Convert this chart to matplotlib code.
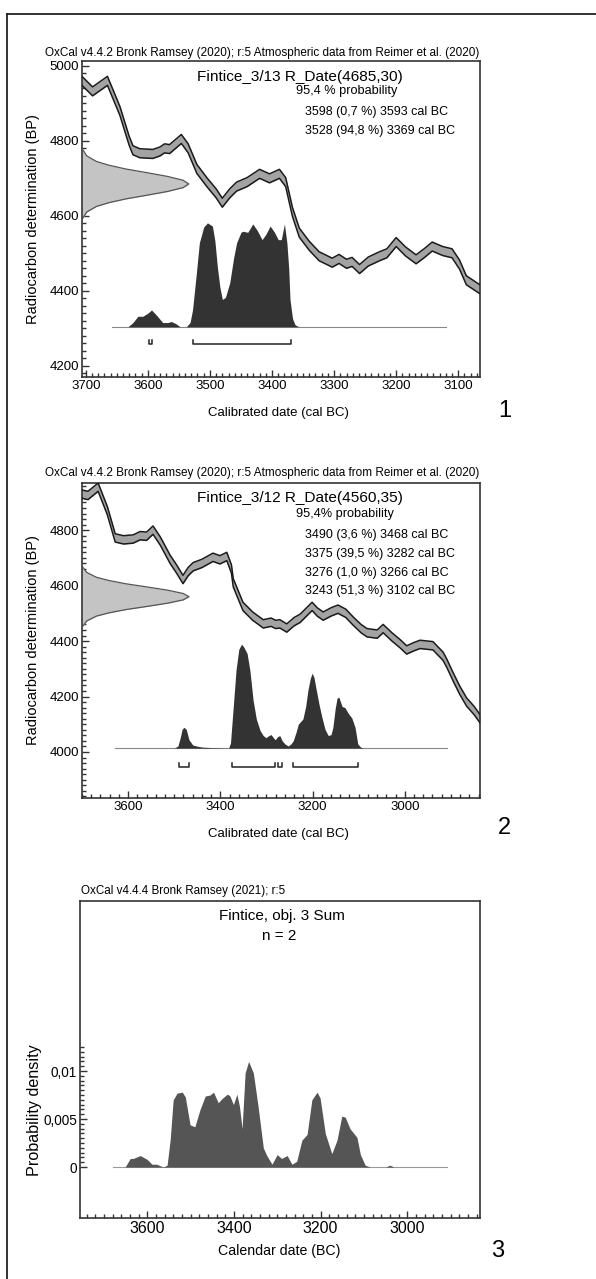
import matplotlib
matplotlib.use("Agg")
import matplotlib.pyplot as plt
from matplotlib.ticker import MultipleLocator, FixedLocator
import numpy as np

plt.rcParams['font.family'] = ['Liberation Sans', 'DejaVu Sans']

W, H = 596, 1279

# ---- panel 1 : Fintice_3/13 ----
cal1_x = [3706, 3689, 3665, 3645, 3630, 3624, 3613, 3592, 3580, 3573, 3565, 3546, 3535, 3521, 3505,
          3490, 3480, 3468, 3457, 3440, 3420, 3404, 3388, 3378, 3367, 3356, 3340, 3324, 3303, 3292,
          3280, 3271, 3259, 3245, 3227, 3215, 3200, 3185, 3168, 3155, 3142, 3125, 3110, 3098, 3087, 3066]
cal1_y = [4960, 4932, 4960, 4880, 4800, 4775, 4767, 4765, 4772, 4780, 4778, 4805, 4780, 4725, 4690,
          4660, 4635, 4660, 4678, 4690, 4712, 4700, 4712, 4690, 4610, 4555, 4520, 4492, 4475, 4485,
          4472, 4477, 4458, 4478, 4492, 4500, 4530, 4505, 4484, 4500, 4518, 4506, 4500, 4470, 4428, 4405]

post1_x = [3632, 3624, 3616, 3608, 3600, 3594, 3586, 3576, 3568, 3562, 3555, 3548, 3538, 3532, 3528,
           3522, 3517, 3510, 3504, 3496, 3492, 3488, 3484, 3480, 3475, 3468, 3462, 3457, 3450, 3447,
           3439, 3431, 3424, 3416, 3410, 3403, 3396, 3390, 3385, 3380, 3376, 3373, 3371, 3367, 3363, 3357]
post1_h = [0, 0.04, 0.10, 0.10, 0.13, 0.16, 0.11, 0.04, 0.04, 0.05, 0.03, 0.0, 0.0, 0.04, 0.16,
           0.50, 0.80, 0.95, 0.99, 0.96, 0.82, 0.57, 0.38, 0.26, 0.28, 0.42, 0.65, 0.80, 0.90, 0.91,
           0.90, 0.98, 0.92, 0.83, 0.88, 0.96, 0.90, 0.83, 0.83, 0.98, 0.80, 0.55, 0.26, 0.08, 0.02, 0]
ranges1 = [(3598, 3593), (3528, 3369)]
text1 = ["3598 (0,7 %) 3593 cal BC", "3528 (94,8 %) 3369 cal BC"]

# ---- panel 2 : Fintice_3/12 ----
cal2_x = [3700, 3687, 3665, 3645, 3628, 3610, 3589, 3574, 3560, 3546, 3530, 3509, 3495, 3481, 3470,
          3459, 3440, 3416, 3401, 3386, 3376, 3372, 3351, 3330, 3307, 3290, 3280, 3271, 3256, 3240,
          3227, 3201, 3190, 3177, 3160, 3145, 3128, 3112, 3095, 3082, 3060, 3047, 3028, 3010, 2996,
          2980, 2967, 2939, 2917, 2909, 2895, 2881, 2866, 2850, 2837]
cal2_y = [4930, 4925, 4955, 4870, 4772, 4765, 4768, 4780, 4778, 4800, 4760, 4695, 4660, 4622, 4650,
          4668, 4680, 4702, 4693, 4705, 4660, 4610, 4525, 4490, 4462, 4468, 4460, 4462, 4447, 4470,
          4482, 4525, 4505, 4490, 4505, 4515, 4500, 4472, 4445, 4430, 4425, 4445, 4415, 4390, 4368,
          4380, 4388, 4383, 4345, 4320, 4270, 4223, 4180, 4150, 4120]

post2_x = [3500, 3492, 3487, 3483, 3479, 3474, 3468, 3460, 3452, 3440, 3420, 3382, 3378, 3372, 3366,
           3360, 3354, 3349, 3342, 3336, 3329, 3322, 3314, 3307, 3301, 3295, 3290, 3285, 3281, 3276,
           3271, 3266, 3260, 3253, 3247, 3242, 3236, 3231, 3221, 3215, 3210, 3205, 3201, 3197, 3192,
           3186, 3180, 3173, 3166, 3160, 3156, 3151, 3147, 3143, 3140, 3136, 3130, 3122, 3115, 3108,
           3102, 3096, 3090]
post2_h = [0, 0.02, 0.1, 0.18, 0.2, 0.18, 0.08, 0.03, 0.02, 0.01, 0.005, 0.0, 0.05, 0.40, 0.75,
           0.95, 1.0, 0.97, 0.91, 0.75, 0.46, 0.28, 0.17, 0.12, 0.10, 0.12, 0.13, 0.10, 0.08, 0.11,
           0.12, 0.07, 0.04, 0.02, 0.04, 0.07, 0.15, 0.23, 0.28, 0.40, 0.56, 0.67, 0.72, 0.68, 0.56,
           0.42, 0.30, 0.18, 0.12, 0.13, 0.2, 0.38, 0.48, 0.49, 0.45, 0.40, 0.39, 0.33, 0.29, 0.2,
           0.04, 0.01, 0]
ranges2 = [(3490, 3468), (3375, 3282), (3276, 3266), (3243, 3102)]
text2 = ["3490 (3,6 %) 3468 cal BC", "3375 (39,5 %) 3282 cal BC",
         "3276 (1,0 %) 3266 cal BC", "3243 (51,3 %) 3102 cal BC"]

# measured date profile (offset in sigma, relative height)
gauss_sig = [-3, -2.5, -2, -1.67, -1.33, -1, -0.67, -0.33, 0, 0.33, 0.67, 1, 1.33, 1.67, 2, 2.5, 3]
gauss_h = [0.011, 0.044, 0.135, 0.25, 0.41, 0.61, 0.80, 0.946, 1.0, 0.946, 0.80, 0.61, 0.41, 0.25,
           0.135, 0.044, 0.011]

# ---- panel 3 : sum ----
dens_x = [3651, 3639, 3632, 3616, 3600, 3589, 3578, 3563, 3554, 3547, 3540, 3531, 3519, 3512, 3501,
          3490, 3478, 3466, 3455, 3447, 3436, 3428, 3415, 3409, 3401, 3393, 3387, 3381, 3374, 3366,
          3355, 3344, 3332, 3324, 3312, 3300, 3290, 3277, 3266, 3255, 3243, 3231, 3220, 3208, 3201,
          3189, 3174, 3162, 3151, 3143, 3132, 3116, 3108, 3097, 3085, 3050, 3040, 3030]
dens_y = [0, 0.0009, 0.0009, 0.0012, 0.0008, 0.0003, 0.0003, 0, 0.0002, 0.0028, 0.007, 0.0077, 0.0078,
          0.0073, 0.0044, 0.0042, 0.006, 0.0074, 0.0075, 0.0078, 0.0067, 0.0071, 0.0076, 0.0074, 0.0065,
          0.0076, 0.0063, 0.004, 0.0098, 0.011, 0.0098, 0.0063, 0.002, 0.0012, 0.0003, 0.0013, 0.0009,
          0.0012, 0.0003, 0.0006, 0.0028, 0.0034, 0.007, 0.0078, 0.0072, 0.0035, 0.0014, 0.0028, 0.0053,
          0.0052, 0.004, 0.0031, 0.0013, 0.0002, 0, 0, 0.0002, 0]

header = "OxCal v4.4.2 Bronk Ramsey (2020); r:5 Atmospheric data from Reimer et al. (2020)"
EDGE = '#333333'


def px(x, y):
    return x / W, 1 - y / H


def style(ax, xmaj, xmin, ymaj, ymin):
    ax.xaxis.set_major_locator(MultipleLocator(xmaj))
    ax.xaxis.set_minor_locator(MultipleLocator(xmin))
    if ymaj is not None:
        ax.yaxis.set_major_locator(MultipleLocator(ymaj))
        ax.yaxis.set_minor_locator(MultipleLocator(ymin))
    ax.tick_params(which='both', direction='in', top=False, right=False, color=EDGE, width=1)
    ax.tick_params(which='major', length=5, pad=2)
    ax.tick_params(which='minor', length=3)
    for s in ax.spines.values():
        s.set_linewidth(1.2)
        s.set_color(EDGE)


def calib_panel(ax, cx, cy, half, date, sig, gwidth, px_, ph, base, scale, ranges, by, bt, x0, x1):
    cy = np.array(cy, float)
    ax.fill_between(cx, cy - half, cy + half, color='#a3a3a3', lw=0, zorder=2)
    ax.plot(cx, cy - half, color='#1a1a1a', lw=1.1, zorder=3)
    ax.plot(cx, cy + half, color='#1a1a1a', lw=1.1, zorder=3)
    # measured date on the y axis
    xl = ax.get_xlim()[0]
    gy = date + np.array(gauss_sig) * sig
    gx = xl - np.array(gauss_h) * gwidth
    ax.fill_betweenx(gy, xl, gx, color='#c4c4c4', lw=0, zorder=2)
    ax.plot(gx, gy, color='#555555', lw=0.9, zorder=3)
    # calibrated distribution
    ax.plot([x0, x1], [base, base], color='#888888', lw=0.8, zorder=3)
    ax.fill_between(px_, base, base + np.array(ph) * scale, color='#333333', lw=0, zorder=4)
    for a, b in ranges:
        ax.plot([a, a, b, b], [by + bt, by, by, by + bt], color='#222222', lw=1.1, zorder=4)


fig = plt.figure(figsize=(W / 100, H / 100), dpi=100)

# outer frame (top and left)
fig.add_artist(plt.Line2D([7 / W, 1], [1 - 14 / H, 1 - 14 / H], color='#222222', lw=1.3))
fig.add_artist(plt.Line2D([7 / W, 7 / W], [1 - 14 / H, 0], color='#222222', lw=1.3))

# panel 1
ax1 = fig.add_axes([82 / W, 1 - 377 / H, 398 / W, 316 / H])
ax1.set_xlim(3706, 3065)
ax1.set_ylim(4170, 5013)
style(ax1, 100, 10, 200, 20)
calib_panel(ax1, cal1_x, cal1_y, 12, 4685, 30, 172, post1_x, post1_h, 4304, 280,
            ranges1, 4259, 11, 3657, 3119)
ax1.tick_params(labelsize=9.5)

# panel 2
ax2 = fig.add_axes([82 / W, 1 - 798 / H, 398 / W, 315 / H])
ax2.set_xlim(3700, 2837)
ax2.set_ylim(3834, 4970)
style(ax2, 200, 20, 200, 20)
calib_panel(ax2, cal2_x, cal2_y, 15, 4560, 35, 232, post2_x, post2_h, 4014, 375,
            ranges2, 3946, 15, 3628, 2909)
ax2.tick_params(labelsize=9.5)

for ax, hy, ty, py, lines, ly, pn, xy in [
        (ax1, 53, 77, 91, text1, 112, "1", (505, 411)),
        (ax2, 473, 498, 514, text2, 535, "2", (504, 828))]:
    fig.text(*px(262, hy), header, ha='center', va='center', fontsize=8.5)
    name = "Fintice_3/13 R_Date(4685,30)" if pn == "1" else "Fintice_3/12 R_Date(4560,35)"
    fig.text(*px(300, ty), name, ha='center', va='center', fontsize=11.1)
    fig.text(*px(296, py), "95,4 % probability" if pn == "1" else "95,4% probability",
             ha='left', va='center', fontsize=9.2)
    for i, t in enumerate(lines):
        fig.text(*px(305, ly + i * 18.8), t, ha='left', va='center', fontsize=9.0)
    top = 61 if pn == "1" else 483
    bot = 377 if pn == "1" else 798
    fig.text(*px(33, (top + bot) / 2), "Radiocarbon determination (BP)", rotation=90,
             ha='center', va='center', fontsize=10.5)
    fig.text(*px(278, bot + 36), "Calibrated date (cal BC)", ha='center', va='center', fontsize=9.5)
    fig.text(*px(*xy), pn, ha='center', va='center', fontsize=17)

# panel 3
ax3 = fig.add_axes([80 / W, 1 - 1218 / H, 400 / W, 317 / H])
ax3.set_xlim(3755, 2832)
ax3.set_ylim(-0.0053, 0.0277)
style(ax3, 200, 20, None, None)
ax3.yaxis.set_major_locator(FixedLocator([0, 0.005, 0.01]))
ax3.yaxis.set_minor_locator(FixedLocator(np.arange(0, 0.0126, 0.0005)))
ax3.set_yticklabels(["0", "0,005", "0,01"])
ax3.tick_params(axis='x', labelsize=11.5)
ax3.tick_params(axis='y', labelsize=9.8)
ax3.plot([3678, 2908], [0, 0], color='#999999', lw=0.8, zorder=2)
ax3.fill_between(dens_x, 0, dens_y, color='#555555', lw=0, zorder=3)

fig.text(*px(81, 891), "OxCal v4.4.4 Bronk Ramsey (2021); r:5", ha='left', va='center', fontsize=8.4)
fig.text(*px(282, 916), "Fintice, obj. 3 Sum", ha='center', va='center', fontsize=11)
fig.text(*px(279, 936), "n = 2", ha='center', va='center', fontsize=11)
fig.text(*px(35, 1110), "Probability density", rotation=90, ha='center', va='center', fontsize=11.6)
fig.text(*px(279, 1251), "Calendar date (BC)", ha='center', va='center', fontsize=10.2)
fig.text(*px(498, 1251), "3", ha='center', va='center', fontsize=17)

fig.savefig("out.png", dpi=100, facecolor='white')
